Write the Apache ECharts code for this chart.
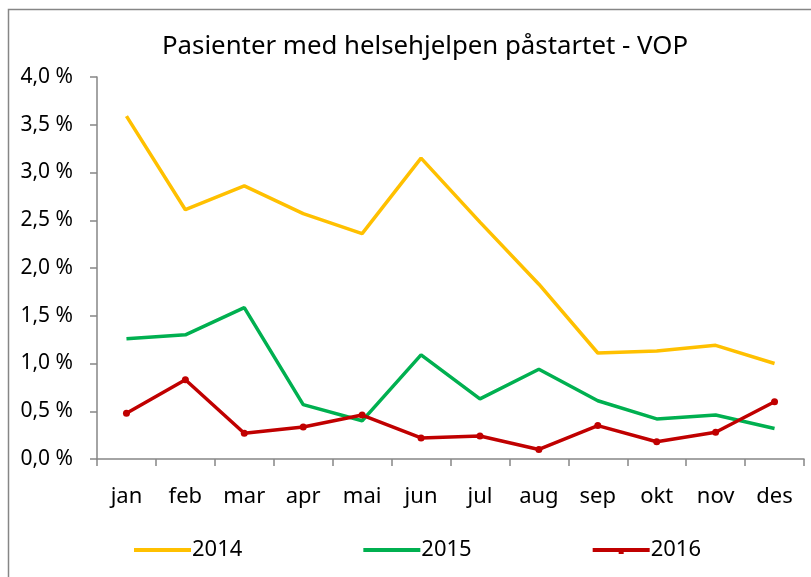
<!DOCTYPE html>
<html>
<head>
<meta charset="utf-8">
<script src="https://cdn.jsdelivr.net/npm/echarts@6/dist/echarts.min.js"></script>
<style>html,body{margin:0;padding:0;background:#fff}#c{width:811px;height:577px}</style>
</head>
<body>
<div id="c"></div>
<script>
var categories = ['jan','feb','mar','apr','mai','jun','jul','aug','sep','okt','nov','des'];
var s2014 = [3.59, 2.61, 2.86, 2.57, 2.36, 3.15, 2.48, 1.83, 1.11, 1.13, 1.19, 1.00];
var s2015 = [1.26, 1.30, 1.585, 0.57, 0.40, 1.09, 0.63, 0.94, 0.61, 0.42, 0.46, 0.32];
var s2016 = [0.48, 0.83, 0.27, 0.335, 0.46, 0.22, 0.24, 0.10, 0.35, 0.18, 0.28, 0.60];
var yTicks = {min: 0, max: 4, interval: 0.5};
var titleText = 'Pasienter med helsehjelpen påstartet - VOP';

var FONT = 'Noto Sans';
var axisColor = '#868686';
var barIcon = 'path://M0,0 L0,0 M0,2 L57,2 L57,6 L0,6 Z M57,8 L57,8';
var dotIcon = 'path://M0,0 L0,0 M0,2 L57,2 L57,6 L0,6 Z M26,2 L31,2 L31,8 L26,8 Z';
var chart = echarts.init(document.getElementById('c'), null, {renderer: 'canvas'});
chart.setOption({
  backgroundColor: '#fff',
  animation: false,
  graphic: [{
    type: 'rect', silent: true,
    shape: {x: 8.5, y: 9.5, width: 900, height: 700},
    style: {fill: 'none', stroke: axisColor, lineWidth: 1.5}
  }],
  title: {
    text: titleText, left: 420, top: 29, textAlign: 'center',
    textStyle: {fontFamily: FONT, fontSize: 25.8, fontWeight: 'normal', color: '#000'}
  },
  legend: {
    left: 129, top: 534, itemWidth: 57, itemHeight: 8, itemGap: 121,
    textStyle: {fontFamily: FONT, fontSize: 22, color: '#000', padding: [0,0,0,-4]},
    data: [{name: '2014', icon: barIcon}, {name: '2015', icon: barIcon}, {name: '2016', icon: dotIcon}]
  },
  grid: {left: 97, top: 77, right: 7, bottom: 118, containLabel: false},
  xAxis: {
    type: 'category', data: categories, boundaryGap: true,
    axisLine: {lineStyle: {color: axisColor, width: 1.5}},
    axisTick: {show: true, length: 7, lineStyle: {color: axisColor, width: 1.5}},
    axisLabel: {fontFamily: FONT, fontSize: 22, color: '#000', margin: 27},
    splitLine: {show: false}
  },
  yAxis: {
    type: 'value', min: yTicks.min, max: yTicks.max, interval: yTicks.interval,
    axisLine: {show: true, lineStyle: {color: axisColor, width: 1.5}},
    axisTick: {show: true, length: 7, lineStyle: {color: axisColor, width: 1.5}},
    axisLabel: {fontFamily: FONT, fontSize: 21, color: '#000', margin: 24,
      formatter: function (v) { return v.toFixed(1).replace('.', ',') + ' %'; }},
    splitLine: {show: false}
  },
  series: [
    {name: '2014', type: 'line', data: s2014, symbol: 'none', color: '#FFC000',
      lineStyle: {width: 3.5, color: '#FFC000'}},
    {name: '2015', type: 'line', data: s2015, symbol: 'none', color: '#00B050',
      lineStyle: {width: 3.5, color: '#00B050'}},
    {name: '2016', type: 'line', data: s2016, symbol: 'circle', symbolSize: 7, color: '#C00000',
      itemStyle: {color: '#C00000'},
      lineStyle: {width: 3.5, color: '#C00000'}}
  ]
});
</script>
</body>
</html>
